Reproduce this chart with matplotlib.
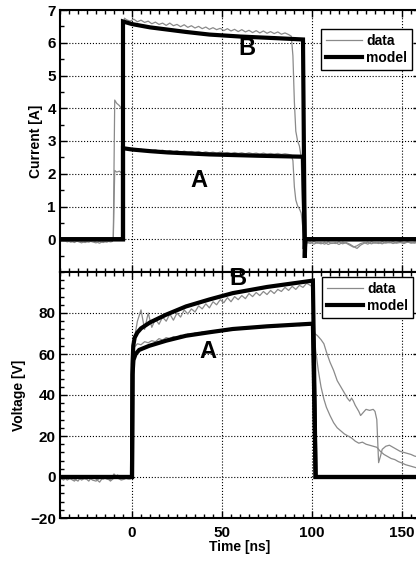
import matplotlib
matplotlib.use("Agg")
import matplotlib.pyplot as plt
from matplotlib.ticker import MultipleLocator

plt.rcParams['font.family'] = ['Liberation Sans', 'DejaVu Sans']

# ---------------- current data (A) ----------------
# shared time bases for the measured traces
t_pre = [-40, -38, -36, -34, -32, -30, -28, -26, -24, -22, -20, -18, -16, -14, -12, -11]
t_flat = [-3, -1, 1, 3, 5, 7, 9, 11, 13, 15, 17, 19, 21, 23, 25, 27, 29, 31, 33, 35, 37, 39,
          41, 43, 45, 47, 49, 51, 53, 55, 57, 59, 61, 63, 65, 67, 69, 71, 73, 75, 77, 79,
          81, 83, 85, 87]
t_post = [97, 99, 101, 103, 105, 107, 109, 111, 113, 115, 117, 119, 121, 123, 125, 127,
          129, 131, 133, 135, 137, 139, 141, 143, 145, 147, 149, 151, 153, 155, 157, 159]
t_rise = [-10.4, -9.6, -8.5, -7, -6, -5, -4.2]
t_fall = [88.5, 89.4, 90.2, 91, 92, 93, 94, 95, 96]

curB_pre = [-0.03, -0.06, -0.04, -0.09, -0.05, -0.07, -0.11, -0.06, -0.09, -0.04, -0.08,
            -0.12, -0.06, -0.09, -0.04, -0.06]
curB_rise = [0.0, 4.25, 4.15, 4.08, 4.0, 4.2, 6.75]
curB_flat = [6.70, 6.66, 6.72, 6.64, 6.69, 6.62, 6.66, 6.58, 6.63, 6.56, 6.60, 6.53, 6.60,
             6.52, 6.56, 6.49, 6.55, 6.47, 6.52, 6.45, 6.50, 6.43, 6.48, 6.41, 6.46, 6.40,
             6.44, 6.37, 6.43, 6.36, 6.41, 6.34, 6.40, 6.33, 6.38, 6.31, 6.37, 6.30, 6.36,
             6.29, 6.34, 6.28, 6.33, 6.26, 6.30, 6.25]
curB_fall = [6.2, 5.6, 4.2, 3.3, 3.0, 2.85, 2.5, 0.6, -0.05]
curB_post = [-0.12, -0.08, -0.15, -0.10, -0.14, -0.09, -0.16, -0.11, -0.13, -0.08, -0.14,
             -0.10, -0.15, -0.22, -0.28, -0.18, -0.12, -0.09, -0.14, -0.10, -0.13, -0.08,
             -0.12, -0.09, -0.13, -0.10, -0.07, -0.11, -0.08, -0.12, -0.09, -0.10]

curA_pre = [-0.07, -0.03, -0.08, -0.05, -0.1, -0.04, -0.07, -0.1, -0.05, -0.08, -0.11,
            -0.06, -0.1, -0.05, -0.08, -0.07]
curA_rise = [0.0, 2.1, 2.05, 2.08, 2.03, 2.2, 2.8]
curA_flat = [2.78, 2.74, 2.77, 2.72, 2.75, 2.71, 2.74, 2.70, 2.73, 2.69, 2.72, 2.68, 2.71,
             2.67, 2.70, 2.66, 2.69, 2.66, 2.68, 2.65, 2.68, 2.64, 2.67, 2.64, 2.66, 2.63,
             2.66, 2.63, 2.65, 2.62, 2.65, 2.62, 2.64, 2.61, 2.64, 2.61, 2.63, 2.60, 2.63,
             2.60, 2.62, 2.60, 2.62, 2.59, 2.61, 2.59]
curA_fall = [2.57, 2.4, 1.6, 1.2, 1.02, 0.93, 0.8, 0.3, -0.08]
curA_post = [-0.09, -0.13, -0.07, -0.12, -0.10, -0.15, -0.08, -0.13, -0.10, -0.16, -0.09,
             -0.12, -0.18, -0.24, -0.20, -0.13, -0.10, -0.15, -0.08, -0.12, -0.10, -0.14,
             -0.09, -0.11, -0.08, -0.12, -0.10, -0.13, -0.09, -0.10, -0.12, -0.08]

# model currents
t_modB_cur = [-40, -5, -5, 0, 10, 20, 30, 43, 60, 80, 95, 96, 96.3, 160]
modB_cur = [0, 0, 6.65, 6.57, 6.47, 6.40, 6.33, 6.25, 6.19, 6.14, 6.10, -0.57, 0, 0]
t_modA_cur = [-40, -5, -5, 0, 10, 20, 43, 70, 95, 96, 96.3, 160]
modA_cur = [0, 0, 2.78, 2.74, 2.69, 2.65, 2.59, 2.55, 2.52, -0.3, 0, 0]

# ---------------- voltage data (V) ----------------
tv_pre = [-40, -38, -36, -34, -32, -30, -28, -26, -24, -22, -20, -18, -16, -14, -12, -10,
          -8, -6, -4, -2, -1, 0, 0.4]
tv_flat = [1, 3, 5, 7, 9, 11, 13, 15, 17, 19, 21, 23, 25, 27, 29, 31, 33, 35, 37, 39, 41,
           43, 45, 47, 49, 51, 53, 55, 57, 59, 61, 63, 65, 67, 69, 71, 73, 75, 77, 79, 81,
           83, 85, 87, 89, 91, 93, 95, 97, 99]

voltB_pre = [-0.5, -1.5, 0.5, -1, -2, 0, -1.5, -0.5, -2, 0.5, -1, -2.5, 0, -1, -1.5, 1.5,
             -0.5, -1.5, -1, 0.5, -0.5, 0, 60]
voltB_flat = [66, 76, 81.5, 72, 80, 73, 77, 74.5, 78, 76, 79.5, 76.5, 80, 78, 81.5, 79.5,
              82, 80.5, 83.5, 82, 84.5, 82.5, 85.5, 84, 86.5, 85, 87.5, 85.5, 88, 86.5, 88.5,
              87, 89.5, 88, 90, 88.5, 90.5, 89, 91, 89.5, 91.5, 90.5, 92.5, 91, 93, 91.5,
              93.5, 92.5, 94.5, 93.5]
tvB_post = [100, 100.8, 101.5, 103, 105, 106.6, 108, 110, 112, 114, 116, 118, 119.6, 121,
            122, 123, 124, 126, 127, 128.5, 130, 132, 134, 135, 136, 137, 138, 139, 141, 143,
            145, 147, 149, 151, 153, 155, 157, 159]
voltB_post = [93, 75, 70, 69, 67, 65, 61, 56, 52, 47, 44, 41, 38.5, 37, 38.5, 37, 35, 32,
              30, 31.5, 33, 32.5, 33, 32, 28, 7, 10, 13.5, 15, 15.5, 14.5, 13.5, 12.5, 12,
              11.5, 11, 10.2, 9.8]

voltA_pre = [-1, 0, -1.5, -0.5, -1, -2, 0.5, -1, 0, -1.5, -2, -0.5, -1, 0, -2, -0.5, 1, -1,
             -0.5, -1, -1, 0, 55]
voltA_flat = [63, 65, 64.5, 66, 65.5, 66.5, 66, 67.5, 66.8, 68, 67.5, 68.5, 68, 69.2, 68.6,
              69.8, 69.3, 70.3, 69.8, 70.8, 70.2, 71, 70.6, 71.5, 71, 71.8, 71.3, 72.2, 71.8,
              72.6, 72, 72.8, 72.4, 73, 72.6, 73.3, 72.9, 73.5, 73.1, 73.7, 73.3, 73.9, 73.5,
              74, 73.6, 74.2, 73.8, 74.3, 74, 74.4]
tvA_post = [100, 101, 102, 103.5, 105, 106.6, 108, 110, 112, 114, 116, 118, 120, 122, 124,
            126, 128, 130, 132, 134, 136, 138, 140, 142, 144, 146, 148, 150, 152, 154, 156,
            158, 160]
voltA_post = [74, 73, 62, 52, 44, 38, 34, 30, 26.5, 24, 22.5, 21, 20, 19, 17.5, 16.5, 17,
              16, 15.5, 15, 14.5, 12.5, 11, 10, 9, 8.5, 7.5, 6.8, 6, 5.5, 5, 4.5, 4.2]

# model voltages
t_modB_v = [-40, 0, 0.3, 0.7, 1.5, 3, 5, 10, 19, 30, 43, 56, 75, 100.5, 102, 160]
modB_v = [0, 0, 55, 64, 68, 70.5, 72.5, 75.4, 79.2, 83.2, 86.6, 89.7, 92.7, 95.8, 0, 0]
t_modA_v = [-40, 0, 0.3, 0.8, 2, 4, 9.6, 19, 30, 43, 56, 75, 100.5, 102, 160]
modA_v = [0, 0, 50, 57, 60, 62, 64, 66.5, 68.9, 70.6, 72.2, 73.5, 74.8, 0, 0]

DATA_KW = dict(color='#8a8a8a', lw=0.9)
MODEL_KW = dict(color='black', lw=3.0, solid_joinstyle='miter')

fig = plt.figure(figsize=(4.16, 5.61), dpi=100)
W, H = 416.0, 561.0
ax1 = fig.add_axes([60 / W, 1 - 272 / H, 360 / W, 262 / H])
ax2 = fig.add_axes([60 / W, 1 - 518 / H, 360 / W, 246 / H])

for ax in (ax1, ax2):
    ax.set_xlim(-40, 160)
    ax.xaxis.set_major_locator(MultipleLocator(50))
    ax.xaxis.set_minor_locator(MultipleLocator(5))
    ax.tick_params(which='both', direction='in', top=True, right=True, width=1.0)
    ax.tick_params(which='major', length=5, labelsize=11)
    ax.tick_params(axis='x', which='major', pad=6)
    ax.tick_params(axis='y', which='major', pad=3)
    ax.tick_params(which='minor', length=3)
    ax.grid(True, which='major', color='black', ls=':', lw=0.8)
    for sp in ax.spines.values():
        sp.set_linewidth(1.5)

# current panel
ax1.plot(t_pre + t_rise + t_flat + t_fall + t_post,
         curB_pre + curB_rise + curB_flat + curB_fall + curB_post, label='data', **DATA_KW)
ax1.plot(t_pre + t_rise + t_flat + t_fall + t_post,
         curA_pre + curA_rise + curA_flat + curA_fall + curA_post, **DATA_KW)
ax1.plot(t_modB_cur, modB_cur, label='model', **MODEL_KW)
ax1.plot(t_modA_cur, modA_cur, **MODEL_KW)
ax1.set_ylim(-1, 7)
ax1.set_yticks([0, 1, 2, 3, 4, 5, 6, 7])
ax1.yaxis.set_minor_locator(MultipleLocator(0.5))
ax1.set_xticklabels([])
ax1.set_ylabel('Current [A]', fontsize=10, fontweight='bold', labelpad=3)
ax1.text(64, 5.82, 'B', fontsize=17, fontweight='bold', ha='center', va='center')
ax1.text(37, 1.8, 'A', fontsize=17, fontweight='bold', ha='center', va='center')

# voltage panel
ax2.plot(tv_pre + tv_flat + tvB_post, voltB_pre + voltB_flat + voltB_post,
         label='data', **DATA_KW)
ax2.plot(tv_pre + tv_flat + tvA_post, voltA_pre + voltA_flat + voltA_post, **DATA_KW)
ax2.plot(t_modB_v, modB_v, label='model', **MODEL_KW)
ax2.plot(t_modA_v, modA_v, **MODEL_KW)
ax2.set_ylim(-20, 100)
ax2.set_yticks([-20, 0, 20, 40, 60, 80])
ax2.yaxis.set_minor_locator(MultipleLocator(4))
ax2.set_ylabel('Voltage [V]', fontsize=10, fontweight='bold', labelpad=3)
ax2.set_xlabel('Time [ns]', fontsize=10, fontweight='bold', labelpad=0)
ax2.text(59, 97, 'B', fontsize=17, fontweight='bold', ha='center', va='center')
ax2.text(42, 61, 'A', fontsize=17, fontweight='bold', ha='center', va='center')

for ax in (ax1, ax2):
    for lab in ax.get_xticklabels() + ax.get_yticklabels():
        lab.set_fontweight('bold')

leg_kw = dict(loc='upper right', bbox_transform=fig.transFigure, borderaxespad=0,
              fancybox=False, edgecolor='black', framealpha=1, handlelength=2.6,
              handletextpad=0.3, borderpad=0.35, labelspacing=0.25,
              prop={'weight': 'bold', 'size': 10})
l1 = ax1.legend(bbox_to_anchor=(412 / W, 1 - 29 / H), **leg_kw)
l2 = ax2.legend(bbox_to_anchor=(413 / W, 1 - 277 / H), **leg_kw)
for lg in (l1, l2):
    lg.get_frame().set_linewidth(1.0)

fig.savefig('out.png', dpi=100)
